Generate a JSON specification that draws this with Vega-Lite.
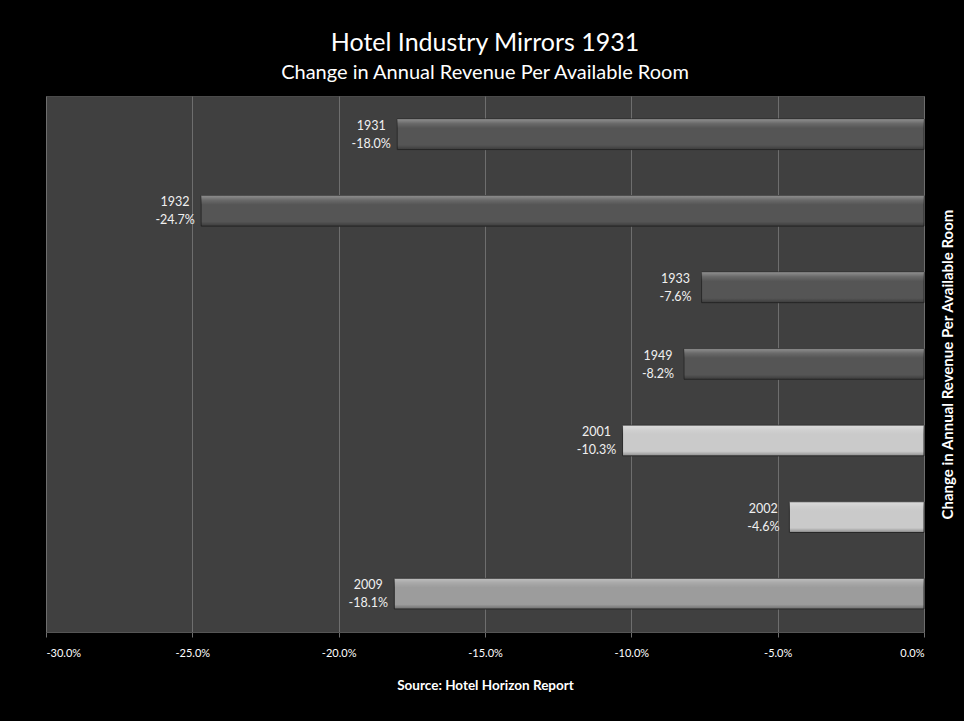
{
  "$schema": "https://vega.github.io/schema/vega-lite/v6.json",
  "autosize": {"type": "none"},
  "width": 878,
  "height": 536,
  "padding": {"left": 46, "top": 96, "right": 40, "bottom": 89},
  "background": "#000000",
  "title": {
    "text": "Hotel Industry Mirrors 1931",
    "subtitle": "Change in Annual Revenue Per Available Room",
    "anchor": "middle",
    "frame": "group",
    "font": "Lato",
    "fontSize": 25,
    "fontWeight": "normal",
    "color": "#ffffff",
    "subtitleFont": "Lato",
    "subtitleFontSize": 20,
    "subtitleColor": "#ffffff",
    "subtitlePadding": 7,
    "offset": 13
  },
  "config": {
    "locale": {"number": {"decimal": ".", "thousands": ",", "grouping": [3], "currency": ["$", ""], "minus": "-"}},
    "view": {"fill": "#404040", "stroke": "#4a4a4a"},
    "font": "Lato"
  },
  "data": {
    "values": [
      {"year": "1931", "change": -0.180, "group": "early"},
      {"year": "1932", "change": -0.247, "group": "early"},
      {"year": "1933", "change": -0.076, "group": "early"},
      {"year": "1949", "change": -0.082, "group": "early"},
      {"year": "2001", "change": -0.103, "group": "2001-2002"},
      {"year": "2002", "change": -0.046, "group": "2001-2002"},
      {"year": "2009", "change": -0.181, "group": "2009"}
    ]
  },
  "encoding": {
    "y": {
      "field": "year",
      "type": "nominal",
      "sort": null,
      "scale": {"paddingInner": 0.6, "paddingOuter": 0.3},
      "axis": {
        "orient": "right",
        "labels": false,
        "ticks": false,
        "domain": false,
        "title": "Change in Annual Revenue Per Available Room",
        "titleAngle": 270,
        "titleColor": "#ffffff",
        "titleFont": "Lato",
        "titleFontSize": 15,
        "titleFontWeight": "bold",
        "titlePadding": 31
      }
    },
    "x": {
      "field": "change",
      "type": "quantitative",
      "scale": {"domain": [-0.3, 0], "nice": false},
      "axis": {
        "values": [-0.3, -0.25, -0.2, -0.15, -0.1, -0.05, 0],
        "format": ".1%",
        "grid": true,
        "gridColor": "#6e6e6e",
        "gridWidth": 1,
        "domain": true,
        "domainColor": "#555555",
        "tickColor": "#6e6e6e",
        "tickSize": 5,
        "labelColor": "#ffffff",
        "labelFont": "Lato",
        "labelFontSize": 11,
        "labelPadding": 10,
        "title": "Source:  Hotel Horizon Report",
        "titleColor": "#ffffff",
        "titleFont": "Lato",
        "titleFontSize": 13.5,
        "titleFontWeight": "bold",
        "titlePadding": 20
      }
    }
  },
  "layer": [
    {
      "mark": {"type": "bar", "stroke": "#2a2a2a", "strokeWidth": 1},
      "encoding": {
        "color": {
          "field": "group",
          "type": "nominal",
          "scale": {"domain": ["early", "2001-2002", "2009"], "range": ["#555555", "#cacaca", "#9c9c9c"]},
          "legend": null
        }
      }
    },
    {
      "mark": {
        "type": "bar",
        "fill": {
          "gradient": "linear", "x1": 0, "y1": 0, "x2": 0, "y2": 1,
          "stops": [
            {"offset": 0, "color": "rgba(255,255,255,0.35)"},
            {"offset": 0.15, "color": "rgba(255,255,255,0.12)"},
            {"offset": 0.3, "color": "rgba(255,255,255,0)"},
            {"offset": 0.85, "color": "rgba(0,0,0,0)"},
            {"offset": 1, "color": "rgba(0,0,0,0.3)"}
          ]
        }
      },
      "encoding": {}
    },
    {
      "mark": {"type": "text", "align": "center", "dx": -26, "dy": -8.5, "color": "#f0f0f0", "font": "Lato", "fontSize": 12.5},
      "encoding": {"text": {"field": "year"}}
    },
    {
      "mark": {"type": "text", "align": "center", "dx": -26, "dy": 9.5, "color": "#f0f0f0", "font": "Lato", "fontSize": 12.5},
      "encoding": {"text": {"field": "change", "format": ".1%"}}
    }
  ]
}
